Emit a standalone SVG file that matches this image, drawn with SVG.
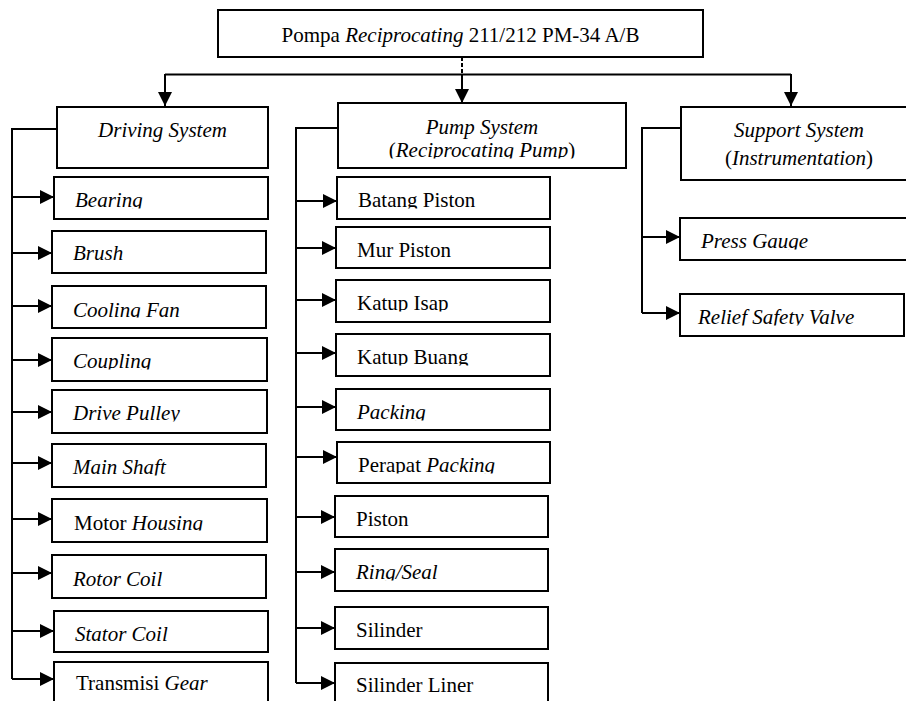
<svg xmlns="http://www.w3.org/2000/svg" width="906" height="701" viewBox="0 0 906 701">
<style>
.box{fill:#fff;stroke:#000;stroke-width:2}
.t{font-family:"Liberation Serif","Times New Roman",serif;font-size:21px;fill:#000}
.i{font-style:italic}
.ln{fill:none;stroke:#000;stroke-width:2}
.dash{fill:none;stroke:#000;stroke-width:2;stroke-dasharray:4 2}
</style>
<defs>
<marker id="ah" viewBox="0 0 14 14" refX="14" refY="7" markerWidth="14" markerHeight="14" markerUnits="userSpaceOnUse" orient="auto">
<path d="M0,0 L14,7 L0,14 z" fill="#000"/>
</marker>
<clipPath id="cp" clipPathUnits="userSpaceOnUse"><rect x="-5" y="0" width="300" height="31.5"/></clipPath>
<clipPath id="cpPump" clipPathUnits="userSpaceOnUse"><rect x="-5" y="0" width="300" height="55.5"/></clipPath>
</defs>
<rect width="906" height="701" fill="#fff"/>

<g id="connectors">
<path class="dash" d="M462,57 V74"/>
<path class="ln" d="M165,74.5 H791"/>
<path class="ln" d="M165,74 V106" marker-end="url(#ah)"/>
<path class="ln" d="M791,74 V106" marker-end="url(#ah)"/>
<path class="ln" d="M462,74 V103" marker-end="url(#ah)"/>
<path class="ln" d="M57,129 H12 V679"/>
<path class="ln" d="M12,197 H54" marker-end="url(#ah)"/>
<path class="ln" d="M12,253 H52" marker-end="url(#ah)"/>
<path class="ln" d="M12,306 H52" marker-end="url(#ah)"/>
<path class="ln" d="M12,360 H52" marker-end="url(#ah)"/>
<path class="ln" d="M12,412 H52" marker-end="url(#ah)"/>
<path class="ln" d="M12,463 H52" marker-end="url(#ah)"/>
<path class="ln" d="M12,519 H52" marker-end="url(#ah)"/>
<path class="ln" d="M12,573 H52" marker-end="url(#ah)"/>
<path class="ln" d="M12,631 H54" marker-end="url(#ah)"/>
<path class="ln" d="M12,679 H54" marker-end="url(#ah)"/>
<path class="ln" d="M338,128 H296 V683"/>
<path class="ln" d="M296,201 H337" marker-end="url(#ah)"/>
<path class="ln" d="M296,248 H336" marker-end="url(#ah)"/>
<path class="ln" d="M296,300 H336" marker-end="url(#ah)"/>
<path class="ln" d="M296,353 H336" marker-end="url(#ah)"/>
<path class="ln" d="M296,407 H336" marker-end="url(#ah)"/>
<path class="ln" d="M296,457 H337" marker-end="url(#ah)"/>
<path class="ln" d="M296,517 H335" marker-end="url(#ah)"/>
<path class="ln" d="M296,572 H335" marker-end="url(#ah)"/>
<path class="ln" d="M296,628 H335" marker-end="url(#ah)"/>
<path class="ln" d="M296,683 H335" marker-end="url(#ah)"/>
<path class="ln" d="M681,128 H642 V313"/>
<path class="ln" d="M642,237 H680" marker-end="url(#ah)"/>
<path class="ln" d="M642,313 H680" marker-end="url(#ah)"/>
</g>

<g id="root">
<rect class="box" x="218" y="10" width="485" height="47"/>
<text class="t" x="460.5" y="42" text-anchor="middle">Pompa <tspan class="i">Reciprocating</tspan> 211/212 PM-34 A/B</text>
</g>

<g id="driving">
<rect class="box" x="57" y="107" width="211" height="61"/>
<text class="t i" x="162.5" y="137" text-anchor="middle">Driving System</text>
</g>

<g id="pump" transform="translate(338,103)">
<rect class="box" width="288" height="65"/>
<text class="t i" x="144" y="31" text-anchor="middle">Pump System</text>
<text class="t" x="144" y="54" text-anchor="middle" clip-path="url(#cpPump)">(<tspan class="i">Reciprocating Pump</tspan>)</text>
</g>

<g id="support">
<rect class="box" x="681" y="107" width="236" height="73"/>
<text class="t i" x="799" y="137" text-anchor="middle">Support System</text>
<text class="t" x="799" y="165" text-anchor="middle">(<tspan class="i">Instrumentation</tspan>)</text>
</g>

<g id="bearing" transform="translate(54,177)"><rect class="box" width="214" height="42"/><text class="t i" x="21" y="30" clip-path="url(#cp)">Bearing</text></g>
<g id="brush" transform="translate(52,231)"><rect class="box" width="214" height="42"/><text class="t i" x="21" y="29" clip-path="url(#cp)">Brush</text></g>
<g id="cooling-fan" transform="translate(52,286)"><rect class="box" width="214" height="42"/><text class="t i" x="21" y="30.5" clip-path="url(#cp)">Cooling Fan</text></g>
<g id="coupling" transform="translate(52,338)"><rect class="box" width="215" height="43"/><text class="t i" x="21" y="30" clip-path="url(#cp)">Coupling</text></g>
<g id="drive-pulley" transform="translate(52,390)"><rect class="box" width="215" height="43"/><text class="t i" x="21" y="30" clip-path="url(#cp)">Drive Pulley</text></g>
<g id="main-shaft" transform="translate(52,444)"><rect class="box" width="214" height="43"/><text class="t i" x="21" y="30" clip-path="url(#cp)">Main Shaft</text></g>
<g id="motor-housing" transform="translate(52,499)"><rect class="box" width="215" height="43"/><text class="t" x="22" y="30.5" clip-path="url(#cp)">Motor <tspan class="i">Housing</tspan></text></g>
<g id="rotor-coil" transform="translate(52,555)"><rect class="box" width="214" height="43"/><text class="t i" x="21" y="30.5" clip-path="url(#cp)">Rotor Coil</text></g>
<g id="stator-coil" transform="translate(54,611)"><rect class="box" width="214" height="41"/><text class="t i" x="21" y="30" clip-path="url(#cp)">Stator Coil</text></g>
<g id="transmisi-gear" transform="translate(54,662)"><rect class="box" width="214" height="45"/><text class="t" x="22" y="28">Transmisi <tspan class="i">Gear</tspan></text></g>

<g id="batang-piston" transform="translate(337,177)"><rect class="box" width="213" height="42"/><text class="t" x="21" y="30" clip-path="url(#cp)">Batang Piston</text></g>
<g id="mur-piston" transform="translate(336,227)"><rect class="box" width="214" height="41"/><text class="t" x="21" y="30" clip-path="url(#cp)">Mur Piston</text></g>
<g id="katup-isap" transform="translate(336,280)"><rect class="box" width="214" height="42"/><text class="t" x="21" y="30" clip-path="url(#cp)">Katup Isap</text></g>
<g id="katup-buang" transform="translate(336,334)"><rect class="box" width="214" height="42"/><text class="t" x="21" y="29.5" clip-path="url(#cp)">Katup Buang</text></g>
<g id="packing" transform="translate(336,389)"><rect class="box" width="214" height="41"/><text class="t i" x="21" y="29.5" clip-path="url(#cp)">Packing</text></g>
<g id="perapat-packing" transform="translate(337,442)"><rect class="box" width="213" height="41"/><text class="t" x="21" y="30" clip-path="url(#cp)">Perapat <tspan class="i">Packing</tspan></text></g>
<g id="piston" transform="translate(335,496)"><rect class="box" width="213" height="41"/><text class="t" x="21" y="30" clip-path="url(#cp)">Piston</text></g>
<g id="ring-seal" transform="translate(335,549)"><rect class="box" width="213" height="42"/><text class="t i" x="21" y="29.5" clip-path="url(#cp)">Ring/Seal</text></g>
<g id="silinder" transform="translate(335,607)"><rect class="box" width="213" height="42"/><text class="t" x="21" y="30" clip-path="url(#cp)">Silinder</text></g>
<g id="silinder-liner" transform="translate(335,663)"><rect class="box" width="213" height="44"/><text class="t" x="21" y="29">Silinder Liner</text></g>

<g id="press-gauge" transform="translate(680,218)"><rect class="box" width="232" height="42"/><text class="t i" x="21" y="29.5" clip-path="url(#cp)">Press Gauge</text></g>
<g id="relief-safety-valve" transform="translate(680,294)"><rect class="box" width="224" height="42"/><text class="t i" x="18" y="29.5" clip-path="url(#cp)">Relief Safety Valve</text></g>
</svg>
